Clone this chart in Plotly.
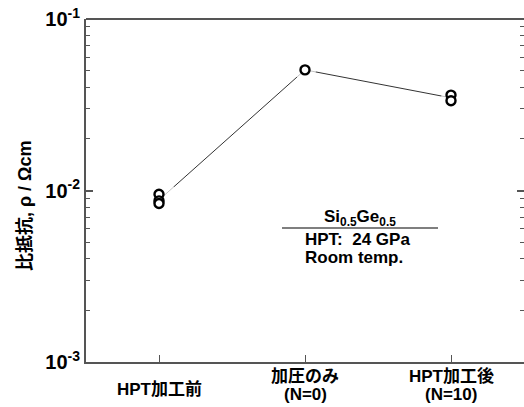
import plotly.graph_objects as go

categories = ["HPT加工前", "加圧のみ (N=0)", "HPT加工後 (N=10)"]
label_line1 = ["", "加圧のみ", "HPT加工後"]
label_line2 = ["", "(N=0)", "(N=10)"]
label_single = ["HPT加工前", "", ""]
# individual measurements (ρ, Ωcm)
meas_cat = ["HPT加工前", "HPT加工前", "HPT加工前",
            "加圧のみ (N=0)",
            "HPT加工後 (N=10)", "HPT加工後 (N=10)"]
meas_val = [0.0095, 0.0087, 0.0084, 0.0505, 0.0360, 0.0334]
# connecting line values (per category)
line_val = [0.0088, 0.0505, 0.0347]
ytick_vals = [0.001, 0.01, 0.1]
ytick_text = ["<b>10<sup>-3</sup></b>", "<b>10<sup>-2</sup></b>", "<b>10<sup>-1</sup></b>"]
minor_vals = [k * 10**e for e in (-3, -2) for k in range(2, 10)]

font_main = "Liberation Sans, Arial, Noto Sans CJK JP, sans-serif"
axcol = "#555555"

fig = go.Figure()
fig.add_trace(go.Scatter(
    x=categories, y=line_val, mode="lines+markers",
    line=dict(color="#333333", width=1),
    marker=dict(color="white", size=[40, 22, 20], line=dict(width=0)),
    hoverinfo="skip", showlegend=False))
fig.add_trace(go.Scatter(
    x=meas_cat, y=meas_val, mode="markers",
    marker=dict(symbol="circle", color="white", size=9,
                line=dict(color="black", width=2.4)),
    showlegend=False))

fig.update_xaxes(
    type="category", categoryorder="array", categoryarray=categories,
    range=[-0.5, 2.5], showline=True, linecolor=axcol, linewidth=2,
    ticks="inside", ticklen=7, tickcolor=axcol, tickwidth=1,
    showticklabels=False, showgrid=False, zeroline=False, automargin=False)
fig.update_yaxes(
    type="log", range=[-3, -1], showline=True, linecolor=axcol, linewidth=2,
    mirror="ticks", ticks="inside", ticklen=7, tickcolor=axcol, tickwidth=1.5,
    tickvals=ytick_vals, ticktext=ytick_text,
    tickfont=dict(size=20, color="black", family=font_main),
    minor=dict(tickvals=minor_vals, ticks="inside", ticklen=4,
               tickcolor=axcol, tickwidth=1, showgrid=False),
    showgrid=False, zeroline=False, automargin=False)

lab_font = dict(size=17, color="black", family=font_main)
annotations = []
for c, s, l1, l2 in zip(categories, label_single, label_line1, label_line2):
    if s:
        annotations.append(dict(x=c, y=-0.079, xref="x", yref="paper",
                                text="<b>" + s + "</b>", showarrow=False,
                                xanchor="center", yanchor="middle", font=lab_font))
    if l1:
        annotations.append(dict(x=c, y=-0.041, xref="x", yref="paper",
                                text="<b>" + l1 + "</b>", showarrow=False,
                                xanchor="center", yanchor="middle", font=lab_font))
    if l2:
        annotations.append(dict(x=c, y=-0.096, xref="x", yref="paper",
                                text="<b>" + l2 + "</b>", showarrow=False,
                                xanchor="center", yanchor="middle", font=lab_font))

annotations.append(dict(x=-0.139, y=0.455, xref="paper", yref="paper",
                        text="<b>比抵抗, ρ / Ωcm</b>", showarrow=False, textangle=-90,
                        xanchor="center", yanchor="middle",
                        font=dict(size=18, color="black", family=font_main)))
annotations.append(dict(x=0.6256, y=0.4198, xref="paper", yref="paper",
                        text="<b>Si<sub>0.5</sub>Ge<sub>0.5</sub></b>", showarrow=False,
                        xanchor="center", yanchor="middle",
                        font=dict(size=17, color="black", family=font_main)))
annotations.append(dict(x=0.4954, y=0.3557, xref="paper", yref="paper",
                        text="<b>HPT:  24 GPa</b>", showarrow=False,
                        xanchor="left", yanchor="middle",
                        font=dict(size=17, color="black", family=font_main)))
annotations.append(dict(x=0.4954, y=0.3061, xref="paper", yref="paper",
                        text="<b>Room temp.</b>", showarrow=False,
                        xanchor="left", yanchor="middle",
                        font=dict(size=17, color="black", family=font_main)))

shapes = [
    dict(type="line", xref="paper", yref="paper", x0=0.4475, x1=0.8037,
         y0=0.3907, y1=0.3907, line=dict(color="black", width=1.2)),
    dict(type="line", xref="paper", yref="paper", x0=0, x1=1,
         y0=1, y1=1, line=dict(color=axcol, width=2)),
]

fig.update_layout(
    width=524, height=407,
    margin=dict(l=86, r=0, t=19, b=45),
    paper_bgcolor="white", plot_bgcolor="white",
    annotations=annotations, shapes=shapes,
    font=dict(family=font_main, color="black"))

fig.write_html("out.html", config={"displayModeBar": False},
               post_script="document.body.style.margin='0';")
